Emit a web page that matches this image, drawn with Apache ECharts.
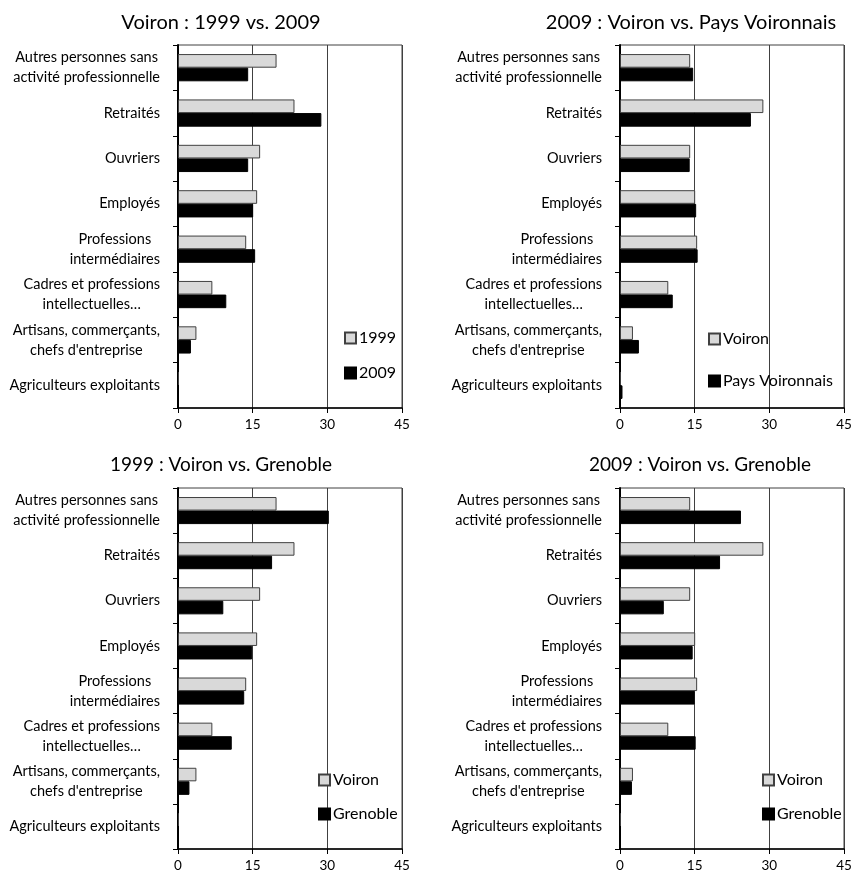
<!DOCTYPE html>
<html>
<head>
<meta charset="utf-8">
<script src="https://cdn.jsdelivr.net/npm/echarts@6/dist/echarts.min.js"></script>
<style>
html,body{margin:0;padding:0;background:#fff;}
#chart{width:859px;height:877px;}
</style>
</head>
<body>
<div id="chart"></div>
<script>
const categories = [
  "Autres personnes sans\nactivité professionnelle",
  "Retraités",
  "Ouvriers",
  "Employés",
  "Professions\nintermédiaires",
  "Cadres et professions\nintellectuelles…",
  "Artisans, commerçants,\nchefs d'entreprise",
  "Agriculteurs exploitants"
];
const voiron1999 = [19.8, 23.4, 16.5, 15.9, 13.7, 6.9, 3.7, 0.2];
const voiron2009 = [14.1, 28.8, 14.1, 15.1, 15.5, 9.7, 2.6, 0.2];
const paysVoironnais2009 = [14.7, 26.3, 14.0, 15.3, 15.6, 10.6, 3.8, 0.5];
const grenoble1999 = [30.3, 18.9, 9.1, 14.9, 13.3, 10.8, 2.3, 0.1];
const grenoble2009 = [24.3, 20.1, 8.8, 14.6, 15.0, 15.2, 2.4, 0.1];
const xTicks = [0, 15, 30, 45];

const panels = [
  {title: "Voiron : 1999 vs. 2009", names: ["1999", "2009"], a: voiron1999, b: voiron2009},
  {title: "2009 : Voiron vs. Pays Voironnais", names: ["Voiron", "Pays Voironnais"], a: voiron2009, b: paysVoironnais2009},
  {title: "1999 : Voiron vs. Grenoble", names: ["Voiron", "Grenoble"], a: voiron1999, b: grenoble1999},
  {title: "2009 : Voiron vs. Grenoble", names: ["Voiron", "Grenoble"], a: voiron2009, b: grenoble2009}
];

const layout = [
  {grid: {left: 178, top: 45, width: 224, height: 363}, titleX: 216, titleY: 8, titleSize: 20, legend: {left: 339, top: 325}, legendGap: 19},
  {grid: {left: 620, top: 45, width: 224, height: 363}, titleX: 686, titleY: 8, titleSize: 20, legend: {left: 703, top: 326}, legendGap: 26},
  {grid: {left: 178, top: 488, width: 224, height: 361}, titleX: 216, titleY: 450, titleSize: 19, legend: {left: 313, top: 767}, legendGap: 18},
  {grid: {left: 620, top: 488, width: 224, height: 361}, titleX: 695, titleY: 450, titleSize: 19, legend: {left: 757, top: 767}, legendGap: 18}
];

const FONT = "Lato";
const gray = "#d9d9d9";

function catFormatter(v) {
  const lines = v.split("\n");
  if (lines.length === 1) return v;
  return lines.map(l => "{c|" + l + "}").join("\n");
}

const option = {
  animation: false,
  backgroundColor: "#fff",
  title: [], grid: [], xAxis: [], yAxis: [], series: [], legend: []
};

panels.forEach((p, i) => {
  const L = layout[i];
  option.title.push({
    text: p.title, left: L.titleX, top: L.titleY, textAlign: "center",
    textStyle: {fontFamily: FONT, fontSize: L.titleSize, fontWeight: "normal", color: "#000"}
  });
  option.grid.push(Object.assign({show: true, borderColor: "#404040", borderWidth: 1, backgroundColor: "transparent", containLabel: false}, L.grid));
  option.xAxis.push({
    type: "value", gridIndex: i, min: xTicks[0], max: xTicks[xTicks.length - 1], interval: 15,
    axisLine: {show: true, lineStyle: {color: "#000", width: 1.5}},
    axisTick: {show: true, length: 5, lineStyle: {color: "#000"}},
    splitLine: {show: true, lineStyle: {color: "#404040", width: 1}},
    axisLabel: {fontFamily: FONT, fontSize: 13.5, color: "#000", margin: 10}
  });
  option.yAxis.push({
    type: "category", gridIndex: i, data: categories, inverse: true,
    axisLine: {show: true, lineStyle: {color: "#000", width: 2}},
    axisTick: {show: true, length: 5, lineStyle: {color: "#000"}},
    axisLabel: {
      fontFamily: FONT, fontSize: 14.5, color: "#000", margin: 18, lineHeight: 20,
      formatter: catFormatter,
      rich: {c: {fontFamily: FONT, fontSize: 14.5, color: "#000", lineHeight: 20, align: "center"}}
    }
  });
  option.series.push({
    name: p.names[0], type: "bar", xAxisIndex: i, yAxisIndex: i, data: p.a,
    barCategoryGap: "40%", barGap: "0%",
    itemStyle: {color: gray, borderColor: "#404040", borderWidth: 1}
  });
  option.series.push({
    name: p.names[1], type: "bar", xAxisIndex: i, yAxisIndex: i, data: p.b,
    barCategoryGap: "40%", barGap: "0%",
    itemStyle: {color: "#000", borderColor: "#000", borderWidth: 1}
  });
  option.legend.push({
    data: p.names, orient: "vertical", left: L.legend.left, top: L.legend.top,
    itemWidth: 11, itemHeight: 11, itemGap: L.legendGap, icon: "rect", selectedMode: false,
    textStyle: {fontFamily: FONT, fontSize: 16, color: "#000", padding: [0, 0, 0, -2]}
  });
});

const chart = echarts.init(document.getElementById("chart"), null, {renderer: "canvas"});
chart.setOption(option);
</script>
</body>
</html>
